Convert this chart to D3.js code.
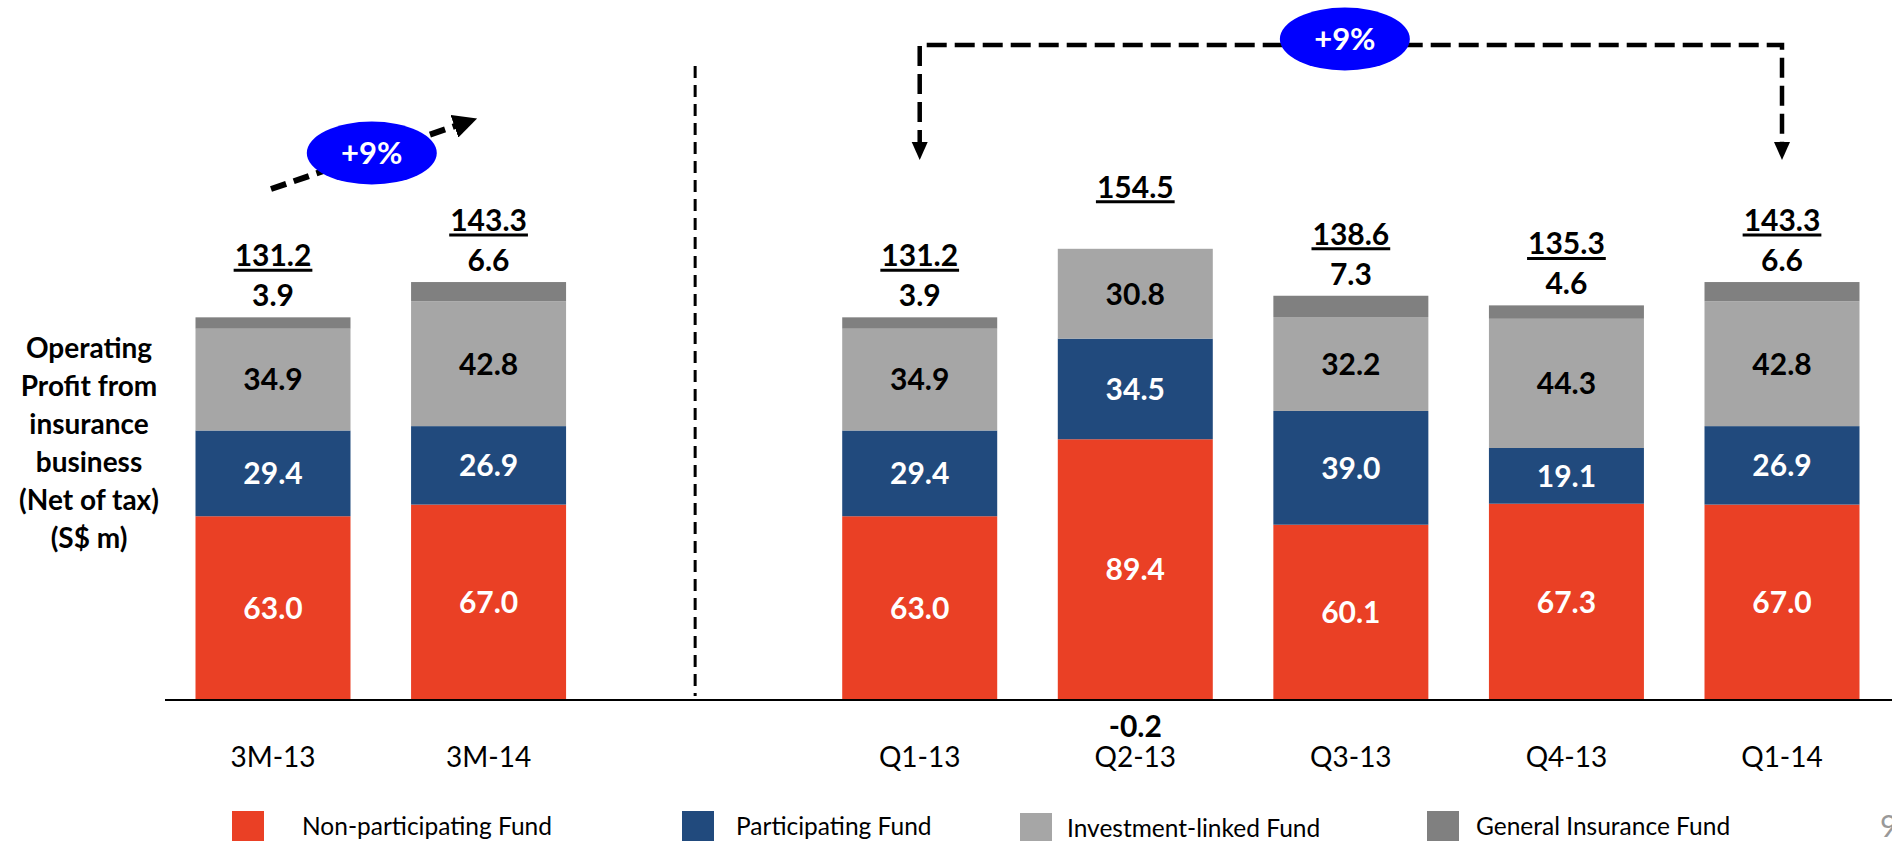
<!DOCTYPE html>
<html>
<head>
<meta charset="utf-8">
<script src="https://cdn.jsdelivr.net/npm/d3@7"></script>
<style>
  body { margin: 0; background: #fff; overflow: hidden; }
  svg { display: block; font-family: Lato, "Open Sans", sans-serif; }
</style>
</head>
<body>
<div id="chart"></div>
<script>
// values
const periods = ["3M-13", "3M-14", "Q1-13", "Q2-13", "Q3-13", "Q4-13", "Q1-14"];
const nonPar = [63.0, 67.0, 63.0, 89.4, 60.1, 67.3, 67.0];
const par = [29.4, 26.9, 29.4, 34.5, 39.0, 19.1, 26.9];
const invLinked = [34.9, 42.8, 34.9, 30.8, 32.2, 44.3, 42.8];
const genIns = [3.9, 6.6, 3.9, -0.2, 7.3, 4.6, 6.6];
const totals = [131.2, 143.3, 131.2, 154.5, 138.6, 135.3, 143.3];
const seriesNames = ["Non-participating Fund", "Participating Fund", "Investment-linked Fund", "General Insurance Fund"];
const yTitle = ["Operating", "Profit from", "insurance", "business", "(Net of tax)", "(S$ m)"];
const growth = "+9%";

const WIDTH = 1892, HEIGHT = 841
const BASE = 700
const BAR_W = 155

const keys = ["np", "p", "il", "gi"]
const colors = { np: "#EA4025", p: "#214A7D", il: "#A6A6A6", gi: "#808080" }
const labelFill = { np: "#fff", p: "#fff", il: "#000", gi: "#000" }

const rows = periods.map((p, i) => ({ period: p, np: nonPar[i], p: par[i], il: invLinked[i], gi: genIns[i], total: totals[i] }))

const svg = d3.select("#chart").append("svg")
  .attr("width", WIDTH).attr("height", HEIGHT)

// slot list has an empty place where the dashed divider sits
const slots = [periods[0], periods[1], "divider", ...periods.slice(2)]
const x = d3.scalePoint().domain(slots).range([273, 1782])
const y = d3.scaleLinear().domain([0, 240]).range([BASE, 0])

const stacked = d3.stack().keys(keys).offset(d3.stackOffsetDiverging)(rows)

// bars
stacked.forEach(layer => {
  svg.append("g").selectAll("rect")
    .data(layer)
    .join("rect")
    .attr("x", d => x(d.data.period) - BAR_W / 2)
    .attr("width", BAR_W)
    .attr("y", d => y(Math.max(d[0], d[1])))
    .attr("height", d => Math.abs(y(d[0]) - y(d[1])))
    .attr("fill", colors[layer.key])
})

// baseline
svg.append("line")
  .attr("x1", 165).attr("x2", WIDTH)
  .attr("y1", y(0)).attr("y2", y(0))
  .attr("stroke", "#000").attr("stroke-width", 2)

// dashed divider
const divX = (x(periods[1]) + x(periods[2])) / 2 - 9
svg.append("line")
  .attr("x1", divX).attr("x2", divX)
  .attr("y1", 66).attr("y2", y(0) - 4)
  .attr("stroke", "#000").attr("stroke-width", 3)
  .attr("stroke-dasharray", "12,7")

// segment labels (inside bars)
stacked.filter(l => l.key !== "gi").forEach(layer => {
  svg.append("g").selectAll("text")
    .data(layer)
    .join("text")
    .attr("x", d => x(d.data.period))
    .attr("y", d => y((d[0] + d[1]) / 2))
    .attr("dy", "0.36em")
    .attr("text-anchor", "middle")
    .attr("font-size", 30).attr("font-weight", "bold")
    .attr("fill", labelFill[layer.key])
    .text(d => (d[1] - d[0]).toFixed(1))
})

// general insurance labels: above stack, or below axis when negative
const stackTop = d => y(d.np + d.p + d.il + Math.max(d.gi, 0))
svg.append("g").selectAll("text")
  .data(rows)
  .join("text")
  .attr("x", d => x(d.period))
  .attr("y", d => d.gi < 0 ? y(0) + 26 : stackTop(d) - 22)
  .attr("dy", "0.36em")
  .attr("text-anchor", "middle")
  .attr("font-size", 30).attr("font-weight", "bold")
  .text(d => d.gi.toFixed(1))

// totals, underlined
const totalG = svg.append("g").selectAll("g")
  .data(rows)
  .join("g")
  .attr("transform", d => `translate(${x(d.period)}, ${stackTop(d) - 62})`)
totalG.append("text")
  .attr("dy", "0.36em")
  .attr("text-anchor", "middle")
  .attr("font-size", 30).attr("font-weight", "bold")
  .text(d => d.total.toFixed(1))
totalG.each(function () {
  const g = d3.select(this)
  const w = g.select("text").node().getComputedTextLength()
  g.append("line")
    .attr("x1", -w / 2 - 1).attr("x2", w / 2 + 1)
    .attr("y1", 15).attr("y2", 15)
    .attr("stroke", "#000").attr("stroke-width", 3)
})

// category labels
svg.append("g").selectAll("text")
  .data(periods)
  .join("text")
  .attr("x", d => x(d))
  .attr("y", 757)
  .attr("dy", "0.36em")
  .attr("text-anchor", "middle")
  .attr("font-size", 28)
  .text(d => d)

// y title
svg.append("text")
  .attr("x", 89).attr("y", 348)
  .attr("text-anchor", "middle")
  .attr("font-size", 28).attr("font-weight", "bold")
  .selectAll("tspan")
  .data(yTitle)
  .join("tspan")
  .attr("x", 89)
  .attr("dy", (d, i) => i === 0 ? "0.36em" : 38)
  .text(d => d)

// arrow markers
const defs = svg.append("defs")
defs.append("marker")
  .attr("id", "headBig").attr("viewBox", "0 0 10 10")
  .attr("refX", 8).attr("refY", 5)
  .attr("markerWidth", 4).attr("markerHeight", 4)
  .attr("markerUnits", "strokeWidth")
  .attr("orient", "auto")
  .append("path").attr("d", "M0,0 L10,5 L0,10 Z")

// left growth arrow
const ax1 = x(periods[0]) - 2, ax2 = x(periods[1]) - 16
svg.append("line")
  .attr("x1", ax1).attr("y1", 189)
  .attr("x2", ax2).attr("y2", 120)
  .attr("stroke", "#000").attr("stroke-width", 6)
  .attr("stroke-dasharray", "16,8")
  .attr("marker-end", "url(#headBig)")

// right bracket
const bx1 = x(periods[2]), bx2 = x(periods[6])
svg.append("path")
  .attr("d", `M${bx1},150 V45 H${bx2} V150`)
  .attr("fill", "none")
  .attr("stroke", "#000").attr("stroke-width", 4.5)
  .attr("stroke-dasharray", "20,8")
;[bx1, bx2].forEach(bx => {
  svg.append("path")
    .attr("d", `M${bx - 8},142 L${bx + 8},142 L${bx},160 Z`)
    .attr("fill", "#000")
})

// growth bubbles
const bubbles = [
  { cx: (ax1 + ax2) / 2, cy: 153 },
  { cx: (bx1 + bx2) / 2 - 6, cy: 39 }
]
bubbles.forEach(b => {
  svg.append("ellipse")
    .attr("cx", b.cx).attr("cy", b.cy)
    .attr("rx", 65).attr("ry", 31.5)
    .attr("fill", "#0000FF")
  svg.append("text")
    .attr("x", b.cx).attr("y", b.cy)
    .attr("dy", "0.36em")
    .attr("text-anchor", "middle")
    .attr("font-size", 31).attr("font-weight", "bold")
    .attr("fill", "#fff")
    .text(growth)
})

// legend
const legendX = [232, 682, 1020, 1427]
const legend = svg.append("g").selectAll("g")
  .data(seriesNames)
  .join("g")
  .attr("transform", (d, i) => `translate(${legendX[i]}, 0)`)
legend.append("rect")
  .attr("y", (d, i) => i === 2 ? 813 : 811)
  .attr("width", 32).attr("height", 40)
  .attr("fill", (d, i) => colors[keys[i]])
legend.append("text")
  .attr("x", (d, i) => [70, 54, 47, 49][i])
  .attr("y", (d, i) => i === 2 ? 828 : 826)
  .attr("dy", "0.36em")
  .attr("font-size", 24.5)
  .text(d => d)

// page number, clipped by the right edge
svg.append("text")
  .attr("x", 1880).attr("y", 826)
  .attr("dy", "0.36em")
  .attr("font-size", 30)
  .attr("fill", "#999")
  .text("9")
</script>
</body>
</html>
